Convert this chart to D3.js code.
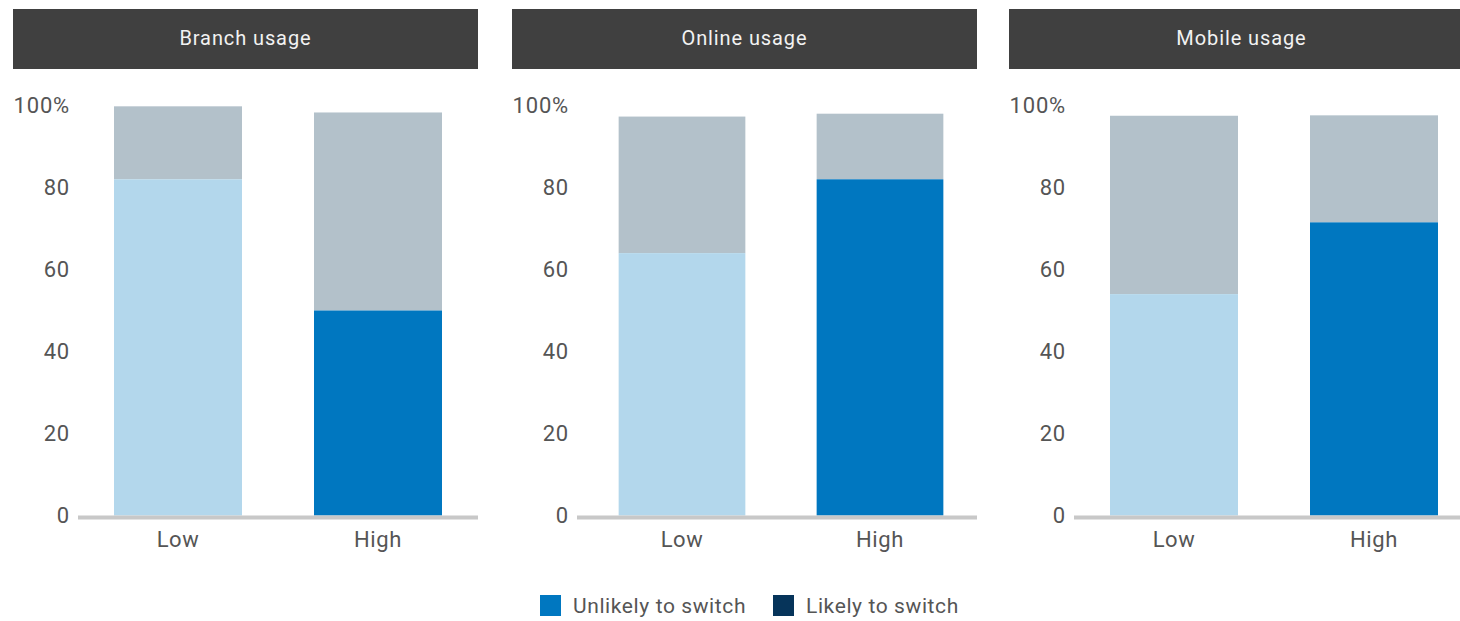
<!DOCTYPE html>
<html><head><meta charset="utf-8">
<script src="https://cdn.jsdelivr.net/npm/d3@7"></script>
<style>
body{margin:0;background:#fff;}
svg text{font-family:Roboto,"Noto Sans",sans-serif;}
</style></head>
<body>
<svg id="c" width="1460" height="621"></svg>
<script>
const panels = ["Branch usage", "Online usage", "Mobile usage"];
const categories = ["Low", "High"];
// bottom segment (blue), top segment (grey) in %
const bottomValues = [[82, 50], [64, 82], [54, 71.5]];
const topValues = [[17.8, 48.3], [33.3, 16], [43.5, 26.1]];
const yTicks = [0, 20, 40, 60, 80, 100];
const legendLabels = ["Unlikely to switch", "Likely to switch"];
const legendColors = ["#0077c0", "#06345a"];
const lowColor = "#b3d7ec", highColor = "#0077c0", greyColor = "#b3c1ca";

const svg = d3.select("#c");
const panelX = [13, 512, 1009];
const barShift = [0, 6, 0];
const barStep = [400, 396, 400];
const panelW = 465;
const y = d3.scaleLinear().domain([0, 100]).range([515.5, 105.5]);

panels.forEach((title, i) => {
  const x = d3.scaleBand().domain(categories)
    .range([65 + barShift[i], 65 + barShift[i] + barStep[i]]).paddingInner(0.36).paddingOuter(0.18);
  const g = svg.append("g").attr("transform", `translate(${panelX[i]},0)`);
  g.append("rect").attr("x", 0).attr("y", 9).attr("width", panelW).attr("height", 60).attr("fill", "#404040");
  g.append("text").attr("x", panelW / 2).attr("y", 45).attr("text-anchor", "middle")
    .attr("fill", "#f2f2f2").attr("font-size", 20).attr("letter-spacing", 0.9).text(title);

  // y axis
  const yAxis = d3.axisLeft(y).tickValues(yTicks).tickSize(0).tickPadding(0)
    .tickFormat(d => d === 100 ? "100%" : d);
  const ya = g.append("g").attr("transform", "translate(57,0)").call(yAxis);
  ya.select(".domain").remove();
  ya.selectAll("text").attr("font-size", 22).attr("fill", "#555").attr("dy", "0.3em")
    .attr("letter-spacing", 0.8).attr("font-family", "Roboto, sans-serif");

  categories.forEach((c, j) => {
    const b = bottomValues[i][j], t = topValues[i][j];
    g.append("rect").attr("x", x(c)).attr("width", x.bandwidth())
      .attr("y", y(b + t)).attr("height", y(b) - y(b + t)).attr("fill", greyColor);
    g.append("rect").attr("x", x(c)).attr("width", x.bandwidth())
      .attr("y", y(b)).attr("height", y(0) - y(b)).attr("fill", j === 0 ? lowColor : highColor);
  });

  // baseline
  g.append("rect").attr("x", 65).attr("y", y(0)).attr("width", 400).attr("height", 4).attr("fill", "#c8c8c8");

  const xAxis = d3.axisBottom(x).tickSize(0).tickPadding(0);
  const xa = g.append("g").attr("transform", `translate(0,${y(0) + 12})`).call(xAxis);
  xa.select(".domain").remove();
  xa.selectAll("text").attr("font-size", 22).attr("fill", "#555").attr("dy", "0.9em")
    .attr("letter-spacing", 0.6).attr("font-family", "Roboto, sans-serif");
});

// legend
const lg = svg.append("g");
const legX = [540, 773];
legendLabels.forEach((l, i) => {
  lg.append("rect").attr("x", legX[i]).attr("y", 595).attr("width", 21).attr("height", 21).attr("fill", legendColors[i]);
  lg.append("text").attr("x", legX[i] + 33).attr("y", 613).attr("font-size", 21).attr("letter-spacing", 0.6)
    .attr("fill", "#555").text(l);
});
</script>
</body></html>
